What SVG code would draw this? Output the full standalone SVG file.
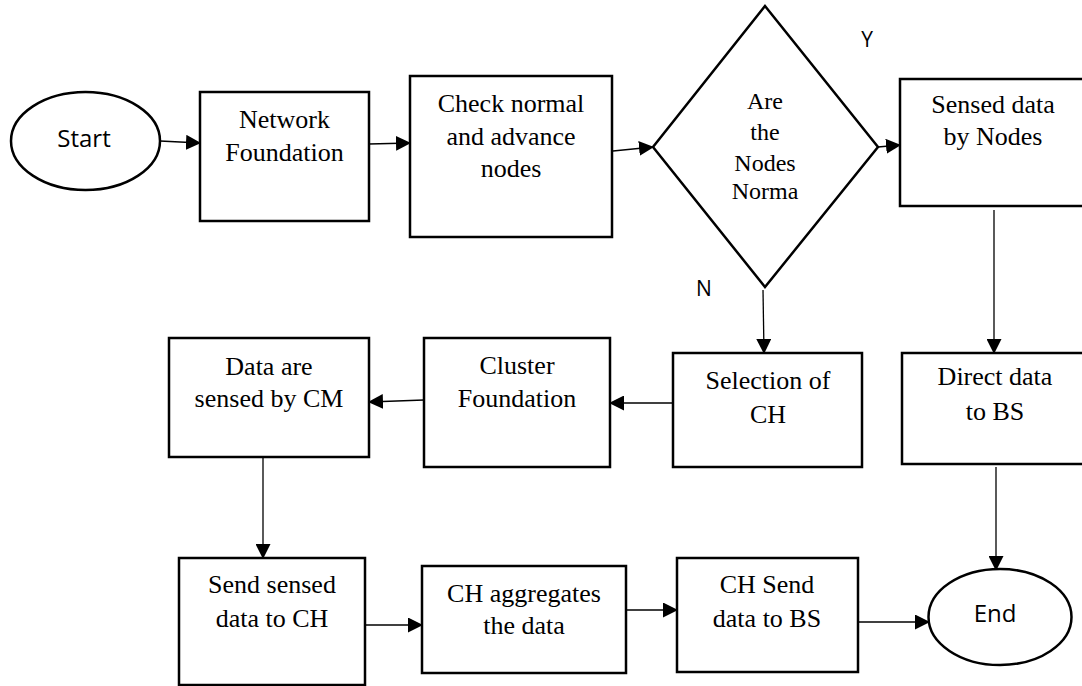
<svg xmlns="http://www.w3.org/2000/svg" width="1082" height="686" viewBox="0 0 1082 686">
  <defs>
    <marker id="arrow" markerWidth="15" markerHeight="15" refX="14" refY="7.5" orient="auto" markerUnits="userSpaceOnUse">
      <path d="M0,0 L15,7.5 L0,15 Z" fill="#000"/>
    </marker>
    <style>
      .box { fill: #fff; stroke: #000; stroke-width: 2.5; }
      .lbl { font-family: "Liberation Serif", "Times New Roman", serif; font-size: 26px; fill: #000; text-anchor: middle; }
      .small { font-size: 24px; }
      .sans { font-family: "Open Sans", "Liberation Sans", sans-serif; font-size: 24px; fill: #000; text-anchor: middle; }
      .yn { font-family: "Open Sans", "Liberation Sans", sans-serif; font-size: 21px; fill: #000; text-anchor: middle; }
      .conn { stroke: #000; stroke-width: 1.3; fill: none; marker-end: url(#arrow); }
    </style>
  </defs>
  <rect width="1082" height="686" fill="#fff"/>

  <g id="connectors">
    <line class="conn" x1="160" y1="141" x2="200" y2="143"/>
    <line class="conn" x1="369" y1="144" x2="410" y2="143"/>
    <line class="conn" x1="613" y1="151" x2="653" y2="147"/>
    <line class="conn" x1="878" y1="147" x2="900" y2="145"/>
    <line class="conn" x1="994" y1="210" x2="994" y2="353"/>
    <line class="conn" x1="763" y1="290" x2="764" y2="353"/>
    <line class="conn" x1="673" y1="403" x2="610" y2="403" stroke="#333" stroke-width="1.8"/>
    <line class="conn" x1="424" y1="400" x2="369" y2="402"/>
    <line class="conn" x1="263" y1="458" x2="263" y2="558"/>
    <line class="conn" x1="365" y1="625" x2="422" y2="625"/>
    <line class="conn" x1="626" y1="610" x2="677" y2="610"/>
    <line class="conn" x1="858" y1="622" x2="929" y2="622"/>
    <line class="conn" x1="996" y1="467" x2="996" y2="570"/>
  </g>

  <g id="start">
    <ellipse cx="85.5" cy="141" rx="74.5" ry="49" class="box"/>
    <text x="84" y="147" class="sans">Start</text>
  </g>

  <g id="network-foundation">
    <rect x="200" y="92" width="169" height="129" class="box"/>
    <text x="284.5" y="128" class="lbl">Network</text>
    <text x="284.5" y="161" class="lbl">Foundation</text>
  </g>

  <g id="check-nodes">
    <rect x="410" y="76" width="202" height="161" class="box"/>
    <text x="511" y="112" class="lbl">Check normal</text>
    <text x="511" y="145" class="lbl">and advance</text>
    <text x="511" y="177" class="lbl">nodes</text>
  </g>

  <g id="decision">
    <polygon points="765,6 878,147 765,287 653,147" class="box"/>
    <text x="765" y="109" class="lbl small">Are</text>
    <text x="765" y="140" class="lbl small">the</text>
    <text x="765" y="171" class="lbl small">Nodes</text>
    <text x="765" y="199" class="lbl small">Norma</text>
    <text x="867" y="47" class="yn">Y</text>
    <text x="704" y="296" class="yn">N</text>
  </g>

  <g id="sensed-by-nodes">
    <rect x="900" y="79" width="200" height="127" class="box"/>
    <text x="993" y="113" class="lbl">Sensed data</text>
    <text x="993" y="145" class="lbl">by Nodes</text>
  </g>

  <g id="direct-data">
    <rect x="902" y="353" width="200" height="111" class="box"/>
    <text x="995" y="385" class="lbl">Direct data</text>
    <text x="995" y="420" class="lbl">to BS</text>
  </g>

  <g id="selection-ch">
    <rect x="673" y="353" width="189" height="114" class="box"/>
    <text x="768" y="389" class="lbl">Selection of</text>
    <text x="768" y="423" class="lbl">CH</text>
  </g>

  <g id="cluster-foundation">
    <rect x="424" y="338" width="186" height="129" class="box"/>
    <text x="517" y="374" class="lbl">Cluster</text>
    <text x="517" y="407" class="lbl">Foundation</text>
  </g>

  <g id="sensed-by-cm">
    <rect x="169" y="338" width="200" height="119" class="box"/>
    <text x="269" y="375" class="lbl">Data are</text>
    <text x="269" y="407" class="lbl">sensed by CM</text>
  </g>

  <g id="send-to-ch">
    <rect x="179" y="558" width="186" height="127" class="box"/>
    <text x="272" y="593" class="lbl">Send sensed</text>
    <text x="272" y="627" class="lbl">data to CH</text>
  </g>

  <g id="ch-aggregates">
    <rect x="422" y="566" width="204" height="107" class="box"/>
    <text x="524" y="602" class="lbl">CH aggregates</text>
    <text x="524" y="634" class="lbl">the data</text>
  </g>

  <g id="ch-send">
    <rect x="677" y="558" width="181" height="114" class="box"/>
    <text x="767" y="593" class="lbl">CH Send</text>
    <text x="767" y="627" class="lbl">data to BS</text>
  </g>

  <g id="end">
    <ellipse cx="1000" cy="617" rx="71.5" ry="48" class="box"/>
    <text x="995" y="622" class="sans">End</text>
  </g>
</svg>
